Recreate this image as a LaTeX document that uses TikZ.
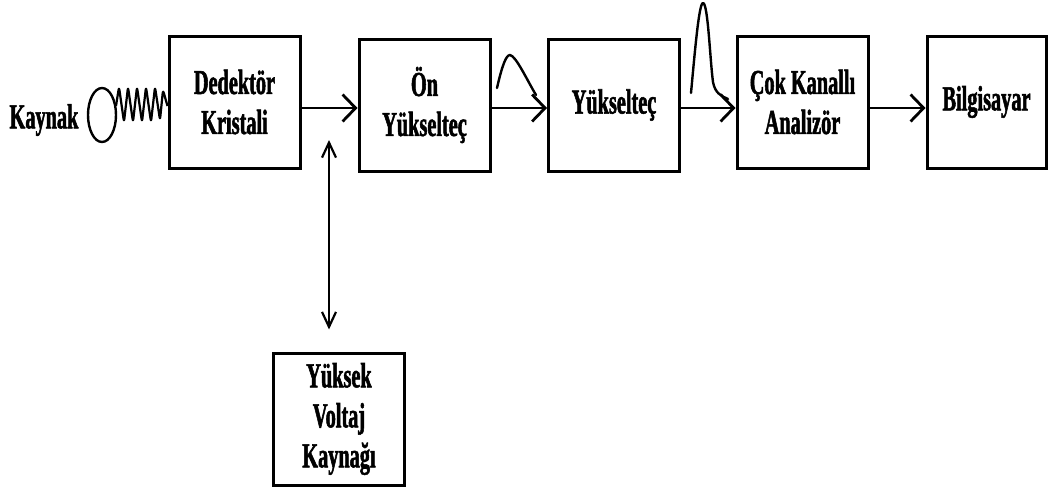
\documentclass[tikz,border=0pt]{standalone}
\usepackage{fontspec}
\setmainfont{Liberation Serif}[FakeStretch=0.58, BoldFeatures={FakeBold=1.5}]
\usetikzlibrary{arrows.meta,shapes.geometric}
\tikzset{
  blk/.style={draw, line width=3pt, inner sep=0pt, minimum width=131pt, minimum height=132pt,
    align=center, font=\fontsize{35}{40}\selectfont\bfseries},
  lbl/.style={inner sep=0pt, font=\fontsize{35}{40}\selectfont\bfseries},
  flow/.style={line width=2.8pt, -{Straight Barb[length=13pt,width=27pt,line width=2.8pt]}},
  dbl/.style={line width=2.2pt, {Straight Barb[length=15pt,width=14pt,line width=2.2pt]}-{Straight Barb[length=15pt,width=14pt,line width=2.2pt]}},
  pulse/.style={line width=2.4pt, line cap=round, line join=round},
}
\begin{document}
\begin{tikzpicture}[x=1pt,y=-1pt]
\useasboundingbox (0,0) rectangle (1048,491);
\node[lbl] (kay) at (44,120) {Kaynak};
\node[draw, ellipse, line width=2.4pt, minimum width=28pt, minimum height=54pt, inner sep=0pt] (src) at (102,115) {};
\node[blk] (A) at (234.5,102) {Dedektör\\Kristali};
\node[blk] (B) at (424.5,105) {Ön\\Yükselteç};
\node[blk] (C) at (614,105) {Yükselteç};
\node[blk] (D) at (802.5,102) {Çok Kanallı\\Analizör};
\node[blk, minimum width=119pt] (E) at (986.5,102) {Bilgisayar};
\node[blk] (F) at (339,419) {Yüksek\\Voltaj\\Kaynağı};
% spring
\coordinate (s0) at (116,106);
\draw[line width=2.2pt, line join=round, rounded corners=3pt]
  (s0) -- (119,87) -- (124,122) -- (128,87) -- (133,122) -- (137,87) -- (142,122)
  -- (146,87) -- (151,122) -- (155,87) -- (160,120) -- (163,90) -- (A.west |- s0);
% connectors
\draw[flow] ([yshift=-6pt]A.east) -- ([yshift=-3pt]B.west);
\draw[flow] ([yshift=-3pt]B.east) -- ([yshift=-3pt]C.west);
\draw[flow] ([yshift=-3pt]C.east) -- ([yshift=-6pt]D.west);
\draw[flow] ([yshift=-6pt]D.east) -- ([yshift=-6pt]E.west);
\coordinate (vt) at (329,140);
\draw[dbl] (vt) -- ([xshift=-10pt,yshift=22pt]F.north);
% pulses
\draw[pulse] (497,88) .. controls (502,66) and (506,55) .. (510,55) .. controls (516,56) and (527,80) .. (536,95);
\draw[pulse] (691,93) .. controls (695,50) and (699,3) .. (703,3) .. controls (708,3) and (710,60) .. (713,82) .. controls (715,93) and (721,96) .. (728,99);
\end{tikzpicture}
\end{document}
